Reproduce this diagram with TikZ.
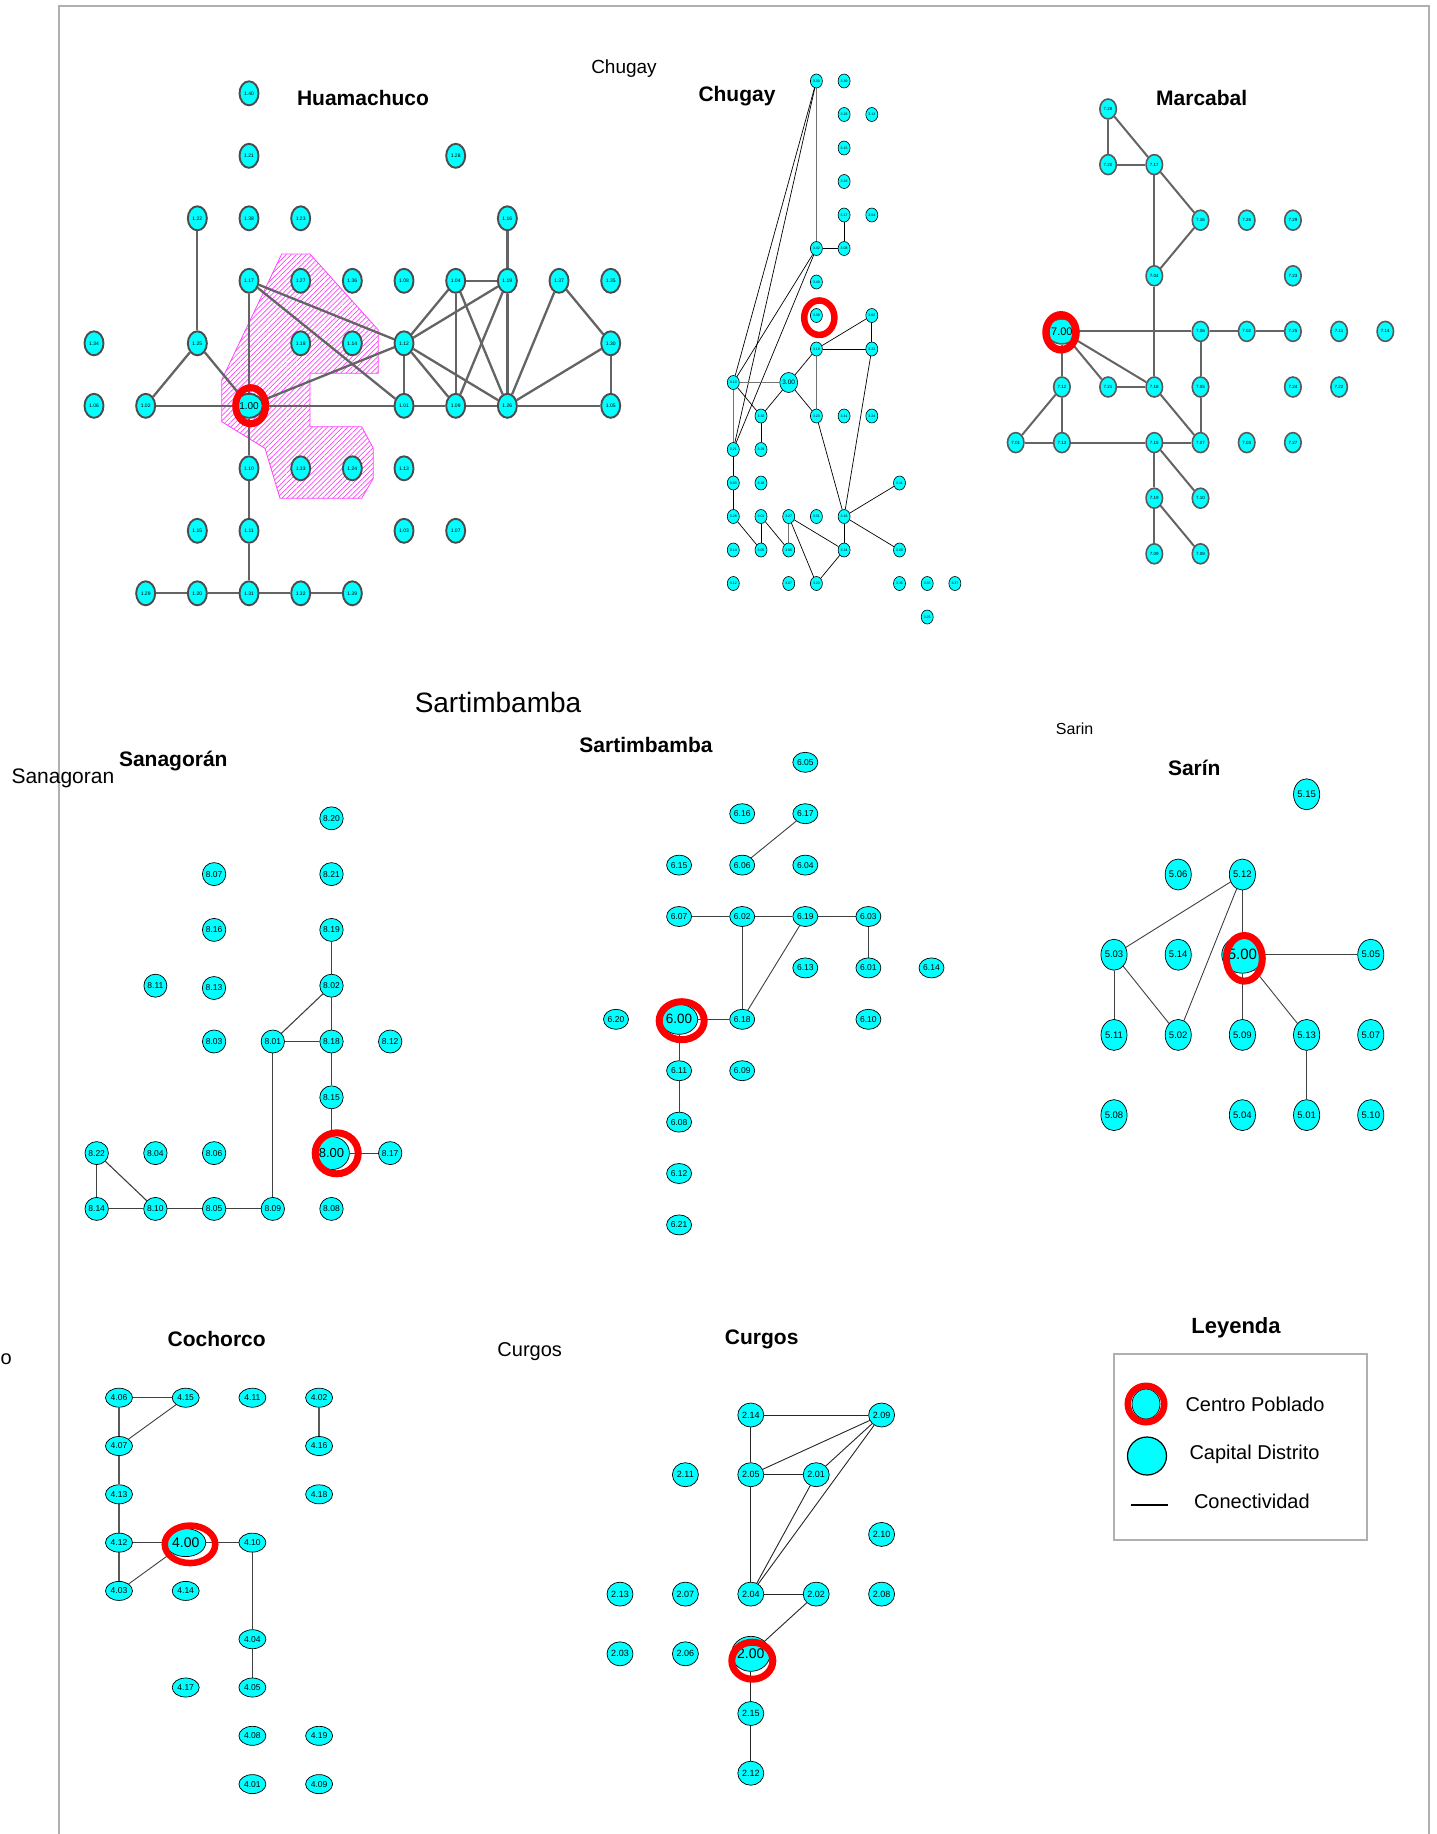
\documentclass[tikz,border=0pt]{standalone}
\usepackage{fontspec}
\setmainfont{Liberation Sans}
\usetikzlibrary{shapes.geometric,patterns.meta}
\pgfdeclarelayer{bg}
\pgfdeclarelayer{bgbottom}
\pgfsetlayers{bgbottom,bg,main}
\definecolor{cy}{HTML}{00FFFF}
\definecolor{hgray}{HTML}{646464}
\definecolor{framegray}{HTML}{B0B0B0}
\definecolor{hatchc}{HTML}{FF44FF}
\tikzset{
  hnode/.style={ellipse, fill=cy, draw=black!70, line width=1.9pt, minimum width=19pt, minimum height=24pt, inner sep=0pt, font=\fontsize{5}{5}\selectfont},
  mnode/.style={ellipse, fill=cy, draw=black!65, line width=1.6pt, minimum width=16.5pt, minimum height=20pt, inner sep=0pt, font=\fontsize{4.5}{5}\selectfont},
  hedge/.style={draw=hgray, line width=2.3pt},
  medge/.style={draw=hgray, line width=2pt},
  cnode/.style={ellipse, fill=cy, draw=black, line width=0.6pt, minimum width=12pt, minimum height=14pt, inner sep=0pt, font=\fontsize{3.5}{3.5}\selectfont},
  cedge/.style={draw=black, line width=0.7pt},
  cedgeg/.style={draw=black!55, line width=1.2pt},
  snode/.style={ellipse, fill=cy, draw=black, line width=0.7pt, minimum width=23pt, minimum height=23pt, inner sep=0pt, font=\fontsize{8.5}{9}\selectfont},
  tnode/.style={ellipse, fill=cy, draw=black, line width=0.7pt, minimum width=25pt, minimum height=20pt, inner sep=0pt, font=\fontsize{8.5}{9}\selectfont},
  nnode/.style={ellipse, fill=cy, draw=black, line width=0.7pt, minimum width=26pt, minimum height=31pt, inner sep=0pt, font=\fontsize{9.5}{10}\selectfont},
  knode/.style={ellipse, fill=cy, draw=black, line width=0.7pt, minimum width=27pt, minimum height=19pt, inner sep=0pt, font=\fontsize{8.5}{9}\selectfont},
  gnode/.style={ellipse, fill=cy, draw=black, line width=0.7pt, minimum width=26pt, minimum height=24pt, inner sep=0pt, font=\fontsize{9}{9}\selectfont},
  ledge/.style={draw=black!75, line width=1.1pt},
  ring/.style={draw=red, line width=6.5pt},
  title/.style={font=\fontsize{21}{24}\selectfont\bfseries},
  plain/.style={font=\fontsize{20}{23}\selectfont},
}
\newcommand\hvN[5][]{\node[hnode,#1] (h#2) at ({94+51.67*#3},{93.3+62.5*#4}) {#5};}
\newcommand\cgN[5][]{\node[cnode,#1] (c#2) at ({733.3+27.7*#3},{81+33.5*#4}) {#5};}
\newcommand\mcN[5][]{\node[mnode,#1] (m#2) at ({1015.7+46.2*#3},{109+55.6*#4}) {#5};}
\newcommand\sgN[5][]{\node[snode,#1] (s#2) at ({96.7+58.7*#3},{818.3+55.8*#4}) {#5};}
\newcommand\stN[5][]{\node[tnode,#1] (t#2) at ({616+63.1*#3},{762.3+51.4*#4}) {#5};}
\newcommand\srN[5][]{\node[nnode,#1] (n#2) at ({1114+64.2*#3},{794.3+80.2*#4}) {#5};}
\newcommand\ccN[5][]{\node[knode,#1] (k#2) at ({119+66.7*#3},{1397.7+48.3*#4}) {#5};}
\newcommand\cuN[5][]{\node[gnode,#1] (g#2) at ({620+65.4*#3},{1415+59.7*#4}) {#5};}
\begin{document}
\begin{tikzpicture}[x=1pt,y=-1pt]
\useasboundingbox (0,0) rectangle (1437,1834);
\begin{pgfonlayer}{bgbottom}
\fill[white] (0,0) rectangle (1437,1834);
\end{pgfonlayer}
% frame
\coordinate (f1) at (59,1840); \coordinate (f2) at (59,6); \coordinate (f3) at (1429,6); \coordinate (f4) at (1429,1840);
\draw[framegray, line width=1.8pt] (f1) -- (f2) -- (f3) -- (f4);

% ---------- Huamachuco ----------
\node[title] (thua) at (363,97.7) {Huamachuco};
\hvN{30}{3}{0}{1.40}
\hvN{31}{3}{1}{1.21} \hvN{71}{7}{1}{1.28}
\hvN{22}{2}{2}{1.22} \hvN{32}{3}{2}{1.38} \hvN{42}{4}{2}{1.23} \hvN{82}{8}{2}{1.16}
\hvN{33}{3}{3}{1.17} \hvN{43}{4}{3}{1.27} \hvN{53}{5}{3}{1.36} \hvN{63}{6}{3}{1.08} \hvN{73}{7}{3}{1.04} \hvN{83}{8}{3}{1.19} \hvN{93}{9}{3}{1.37} \hvN{A3}{10}{3}{1.35}
\hvN{04}{0}{4}{1.34} \hvN{24}{2}{4}{1.25} \hvN{44}{4}{4}{1.18} \hvN{54}{5}{4}{1.14} \hvN{64}{6}{4}{1.12} \hvN{A4}{10}{4}{1.30}
\hvN{05}{0}{5}{1.06} \hvN{15}{1}{5}{1.02} \hvN[font=\fontsize{10}{10}\selectfont]{35}{3}{5}{1.00} \hvN{65}{6}{5}{1.01} \hvN{75}{7}{5}{1.09} \hvN{85}{8}{5}{1.26} \hvN{A5}{10}{5}{1.05}
\hvN{36}{3}{6}{1.10} \hvN{46}{4}{6}{1.33} \hvN{56}{5}{6}{1.24} \hvN{66}{6}{6}{1.13}
\hvN{27}{2}{7}{1.15} \hvN{37}{3}{7}{1.11} \hvN{67}{6}{7}{1.03} \hvN{77}{7}{7}{1.07}
\hvN{18}{1}{8}{1.29} \hvN{28}{2}{8}{1.20} \hvN{38}{3}{8}{1.31} \hvN{48}{4}{8}{1.32} \hvN{58}{5}{8}{1.39}
\begin{pgfonlayer}{bg}
\path[draw=hatchc, line width=0.8pt, pattern={Lines[angle=45,distance=3.6pt,line width=0.7pt]}, pattern color=hatchc]
  (281.7,254) -- (310,254) -- (378.3,330) -- (378.3,373.3) -- (310,373.3) -- (310,426.7) -- (361.7,426.7) -- (373.3,448.3) -- (373.3,478.3) -- (361.7,498.3) -- (280,498.3) -- (265,448.3) -- (221.7,421.7) -- (221.7,380) -- cycle;
\foreach \a/\b in {h22/h24,h24/h15,h24/h35,h15/h35,h35/h65,h65/h75,h75/h85,h85/hA5,h33/h35,h33/h64,h33/h65,h35/h64,h35/h36,h36/h37,h37/h38,h18/h28,h28/h38,h38/h48,h48/h58,h64/h65,h64/h73,h64/h83,h64/h75,h64/h85,h73/h83,h73/h75,h73/h85,h83/h75,h82/h83,h83/h85,h93/h85,h93/hA4,hA4/h85,hA4/hA5}
  \draw[hedge] (\a) -- (\b);
\end{pgfonlayer}
\draw[ring, line width=7pt] (250.7,405.7) ellipse [x radius=15pt, y radius=18pt];

% ---------- Chugay ----------
\node[plain, font=\fontsize{19}{22}\selectfont] (tchug1) at (624,69) {Chugay};
\node[title] (tchug) at (737,96) {Chugay};
\cgN{3r0}{3}{0}{3.30} \cgN{4r0}{4}{0}{3.39}
\cgN{4r1}{4}{1}{3.26} \cgN{5r1}{5}{1}{3.13}
\cgN{4r2}{4}{2}{3.15}
\cgN{4r3}{4}{3}{3.33}
\cgN{4r4}{4}{4}{3.17} \cgN{5r4}{5}{4}{3.04}
\cgN{3r5}{3}{5}{3.42} \cgN{4r5}{4}{5}{3.08}
\cgN{3r6}{3}{6}{3.40}
\cgN{3r7}{3}{7}{3.38} \cgN{5r7}{5}{7}{3.02}
\cgN{3r8}{3}{8}{3.19} \cgN{5r8}{5}{8}{3.22}
\cgN{0r9}{0}{9}{3.10} \cgN[minimum width=17pt,minimum height=20pt,font=\fontsize{6.5}{7}\selectfont]{2r9}{2}{9}{3.00}
\cgN{1r10}{1}{10}{3.32} \cgN{3r10}{3}{10}{3.23} \cgN{4r10}{4}{10}{3.41} \cgN{5r10}{5}{10}{3.24}
\cgN{0r11}{0}{11}{3.21} \cgN{1r11}{1}{11}{3.29}
\cgN{0r12}{0}{12}{3.03} \cgN{1r12}{1}{12}{3.18} \cgN{6r12}{6}{12}{3.11}
\cgN{0r13}{0}{13}{3.28} \cgN{1r13}{1}{13}{3.01} \cgN{2r13}{2}{13}{3.27} \cgN{3r13}{3}{13}{3.31} \cgN{4r13}{4}{13}{3.16}
\cgN{0r14}{0}{14}{3.14} \cgN{1r14}{1}{14}{3.05} \cgN{2r14}{2}{14}{3.06} \cgN{4r14}{4}{14}{3.34} \cgN{6r14}{6}{14}{3.09}
\cgN{0r15}{0}{15}{3.12} \cgN{2r15}{2}{15}{3.07} \cgN{3r15}{3}{15}{3.20} \cgN{6r15}{6}{15}{3.36} \cgN{7r15}{7}{15}{3.35} \cgN{8r15}{8}{15}{3.37}
\cgN{7r16}{7}{16}{3.25}
\begin{pgfonlayer}{bg}
\foreach \a/\b in {c3r0/c0r9,c3r0/c0r11,c3r5/c0r9,c3r5/c0r11,c3r5/c4r5,c4r4/c4r5,c3r8/c5r7,c5r7/c5r8,c3r8/c5r8,c3r8/c2r9,c0r9/c1r10,c2r9/c1r10,c2r9/c3r10,c1r10/c1r11,c0r11/c0r12,c0r12/c0r13,c0r13/c1r14,c1r13/c1r14,c1r13/c2r14,c2r13/c4r14,c2r13/c3r15,c3r15/c4r14,c4r13/c4r14,c3r10/c4r13,c5r8/c4r13,c4r13/c6r12,c4r13/c6r14}
  \draw[cedge] (\a) -- (\b);
\foreach \a/\b in {c3r0/c3r5,c3r8/c3r10,c0r9/c2r9,c0r9/c0r11,c2r13/c2r14}
  \draw[cedgeg] (\a) -- (\b);
\end{pgfonlayer}
\draw[ring] (819.3,317.7) ellipse [x radius=15.1pt, y radius=17.25pt];

% ---------- Marcabal ----------
\node[title] (tmar) at (1201.7,98.3) {Marcabal};
\mcN{2r0}{2}{0}{7.28}
\mcN{2r1}{2}{1}{7.20} \mcN{3r1}{3}{1}{7.17}
\mcN{4r2}{4}{2}{7.16} \mcN{5r2}{5}{2}{7.26} \mcN{6r2}{6}{2}{7.29}
\mcN{3r3}{3}{3}{7.04} \mcN{6r3}{6}{3}{7.23}
\mcN[minimum width=21pt,minimum height=25pt,font=\fontsize{11}{11}\selectfont]{1r4}{1}{4}{7.00} \mcN{4r4}{4}{4}{7.06} \mcN{5r4}{5}{4}{7.02} \mcN{6r4}{6}{4}{7.25} \mcN{7r4}{7}{4}{7.11} \mcN{8r4}{8}{4}{7.14}
\mcN{1r5}{1}{5}{7.12} \mcN{2r5}{2}{5}{7.21} \mcN{3r5}{3}{5}{7.18} \mcN{4r5}{4}{5}{7.05} \mcN{6r5}{6}{5}{7.24} \mcN{7r5}{7}{5}{7.22}
\mcN{0r6}{0}{6}{7.01} \mcN{1r6}{1}{6}{7.13} \mcN{3r6}{3}{6}{7.15} \mcN{4r6}{4}{6}{7.07} \mcN{5r6}{5}{6}{7.03} \mcN{6r6}{6}{6}{7.27}
\mcN{3r7}{3}{7}{7.19} \mcN{4r7}{4}{7}{7.10}
\mcN{3r8}{3}{8}{7.09} \mcN{4r8}{4}{8}{7.08}
\begin{pgfonlayer}{bg}
\foreach \a/\b in {m2r0/m2r1,m2r0/m3r1,m2r1/m3r1,m3r1/m4r2,m3r1/m3r3,m4r2/m3r3,m3r3/m3r5,m1r4/m4r4,m4r4/m5r4,m5r4/m6r4,m4r4/m4r5,m4r5/m4r6,m1r4/m1r5,m1r4/m2r5,m1r4/m3r5,m2r5/m3r5,m3r5/m4r6,m1r5/m0r6,m1r5/m1r6,m0r6/m1r6,m1r6/m3r6,m3r6/m4r6,m3r6/m3r7,m3r6/m4r7,m3r7/m3r8,m3r7/m4r8}
  \draw[medge] (\a) -- (\b);
\end{pgfonlayer}
\draw[ring, line width=7.5pt] (1061,332.3) ellipse [x radius=15pt, y radius=17.5pt];

% ---------- Sanagoran ----------
\node[plain, anchor=west, font=\fontsize{21}{24}\selectfont] (tsan1) at (8,778) {Sanagoran};
\node[title] (tsan) at (173.3,760.7) {Sanagorán};
\sgN{4r0}{4}{0}{8.20}
\sgN{2r1}{2}{1}{8.07} \sgN{4r1}{4}{1}{8.21}
\sgN{2r2}{2}{2}{8.16} \sgN{4r2}{4}{2}{8.19}
\sgN{1r3}{1}{3}{8.11} \node[snode] (s2r3) at (214,988) {8.13}; \sgN{4r3}{4}{3}{8.02}
\sgN{2r4}{2}{4}{8.03} \sgN{3r4}{3}{4}{8.01} \sgN{4r4}{4}{4}{8.18} \sgN{5r4}{5}{4}{8.12}
\sgN{4r5}{4}{5}{8.15}
\sgN{0r6}{0}{6}{8.22} \sgN{1r6}{1}{6}{8.04} \sgN{2r6}{2}{6}{8.06} \sgN[minimum width=32pt,minimum height=33pt,font=\fontsize{13}{13}\selectfont]{4r6}{4}{6}{8.00} \sgN{5r6}{5}{6}{8.17}
\sgN{0r7}{0}{7}{8.14} \sgN{1r7}{1}{7}{8.10} \sgN{2r7}{2}{7}{8.05} \sgN{3r7}{3}{7}{8.09} \sgN{4r7}{4}{7}{8.08}
\begin{pgfonlayer}{bg}
\foreach \a/\b in {s4r2/s4r3,s4r3/s4r4,s4r3/s3r4,s3r4/s4r4,s4r4/s4r5,s4r5/s4r6,s4r6/s5r6,s3r4/s3r7,s0r6/s0r7,s0r6/s1r7,s0r7/s1r7,s1r7/s2r7,s2r7/s3r7}
  \draw[ledge] (\a) -- (\b);
\end{pgfonlayer}
\draw[ring, line width=7pt] (336.7,1153.3) ellipse [x radius=21.5pt, y radius=20.5pt];

% ---------- Sartimbamba ----------
\node[plain, font=\fontsize{28}{31}\selectfont] (tsar1) at (498,702) {Sartimbamba};
\node[title] (tsar) at (646,745) {Sartimbamba};
\stN{3r0}{3}{0}{6.05}
\stN{2r1}{2}{1}{6.16} \stN{3r1}{3}{1}{6.17}
\stN{1r2}{1}{2}{6.15} \stN{2r2}{2}{2}{6.06} \stN{3r2}{3}{2}{6.04}
\stN{1r3}{1}{3}{6.07} \stN{2r3}{2}{3}{6.02} \stN{3r3}{3}{3}{6.19} \stN{4r3}{4}{3}{6.03}
\stN{3r4}{3}{4}{6.13} \stN{4r4}{4}{4}{6.01} \stN{5r4}{5}{4}{6.14}
\stN{0r5}{0}{5}{6.20} \stN[minimum width=37pt,minimum height=30pt,font=\fontsize{13.5}{14}\selectfont]{1r5}{1}{5}{6.00} \stN{2r5}{2}{5}{6.18} \stN{4r5}{4}{5}{6.10}
\stN{1r6}{1}{6}{6.11} \stN{2r6}{2}{6}{6.09}
\stN{1r7}{1}{7}{6.08}
\stN{1r8}{1}{8}{6.12}
\stN{1r9}{1}{9}{6.21}
\begin{pgfonlayer}{bg}
\foreach \a/\b in {t3r1/t2r2,t1r3/t2r3,t2r3/t3r3,t3r3/t4r3,t4r3/t4r4,t2r3/t2r5,t3r3/t2r5,t1r5/t2r5,t1r5/t1r6,t1r6/t1r7}
  \draw[ledge, line width=0.9pt] (\a) -- (\b);
\end{pgfonlayer}
\draw[ring, line width=7pt] (681.7,1020.7) ellipse [x radius=22.5pt, y radius=19pt];

% ---------- Sarin ----------
\node[plain, font=\fontsize{16}{18}\selectfont] (tsrn1) at (1074.6,729) {Sarin};
\node[title] (tsrn) at (1194.3,767.7) {Sarín};
\srN{3r0}{3}{0}{5.15}
\srN{1r1}{1}{1}{5.06} \srN{2r1}{2}{1}{5.12}
\srN{0r2}{0}{2}{5.03} \srN{1r2}{1}{2}{5.14} \srN[minimum width=30pt,minimum height=37pt,font=\fontsize{15}{15}\selectfont]{2r2}{2}{2}{5.00} \srN{4r2}{4}{2}{5.05}
\srN{0r3}{0}{3}{5.11} \srN{1r3}{1}{3}{5.02} \srN{2r3}{2}{3}{5.09} \srN{3r3}{3}{3}{5.13} \srN{4r3}{4}{3}{5.07}
\srN{0r4}{0}{4}{5.08} \srN{2r4}{2}{4}{5.04} \srN{3r4}{3}{4}{5.01} \srN{4r4}{4}{4}{5.10}
\begin{pgfonlayer}{bg}
\foreach \a/\b in {n2r1/n0r2,n2r1/n1r3,n2r1/n2r2,n2r2/n4r2,n2r2/n2r3,n2r2/n3r3,n3r3/n3r4,n0r2/n0r3,n0r2/n1r3}
  \draw[ledge, line width=0.9pt] (\a) -- (\b);
\end{pgfonlayer}
\draw[ring, line width=7pt] (1244.3,958.3) ellipse [x radius=18pt, y radius=22.8pt];

% ---------- Cochorco ----------
\node[plain, anchor=west, inner sep=0.5pt] (tcoc1) at (0,1359) {o};
\node[title] (tcoc) at (216.7,1339) {Cochorco};
\ccN{0r0}{0}{0}{4.06} \ccN{1r0}{1}{0}{4.15} \ccN{2r0}{2}{0}{4.11} \ccN{3r0}{3}{0}{4.02}
\ccN{0r1}{0}{1}{4.07} \ccN{3r1}{3}{1}{4.16}
\ccN{0r2}{0}{2}{4.13} \ccN{3r2}{3}{2}{4.18}
\ccN{0r3}{0}{3}{4.12} \ccN[minimum width=40pt,minimum height=28pt,font=\fontsize{14}{14}\selectfont]{1r3}{1}{3}{4.00} \ccN{2r3}{2}{3}{4.10}
\ccN{0r4}{0}{4}{4.03} \ccN{1r4}{1}{4}{4.14}
\ccN{2r5}{2}{5}{4.04}
\ccN{1r6}{1}{6}{4.17} \ccN{2r6}{2}{6}{4.05}
\ccN{2r7}{2}{7}{4.08} \ccN{3r7}{3}{7}{4.19}
\ccN{2r8}{2}{8}{4.01} \ccN{3r8}{3}{8}{4.09}
\begin{pgfonlayer}{bg}
\foreach \a/\b in {k0r0/k1r0,k1r0/k0r1,k0r4/k1r3,k0r3/k1r3,k1r3/k2r3,k2r3/k2r5,k2r5/k2r6}
  \draw[ledge, line width=0.9pt] (\a) -- (\b);
\foreach \a/\b in {k0r0/k0r1,k0r1/k0r2,k0r2/k0r3,k0r3/k0r4,k3r0/k3r1}
  \draw[ledge, draw=black!65, line width=1.3pt] (\a) -- (\b);
\end{pgfonlayer}
\draw[ring] (190,1544.3) ellipse [x radius=25.25pt, y radius=18.75pt];

% ---------- Curgos ----------
\node[plain] (tcur1) at (529.7,1351.7) {Curgos};
\node[title] (tcur) at (761.7,1339) {Curgos};
\cuN{2r0}{2}{0}{2.14} \cuN{4r0}{4}{0}{2.09}
\cuN{1r1}{1}{1}{2.11} \cuN{2r1}{2}{1}{2.05} \cuN{3r1}{3}{1}{2.01}
\cuN{4r2}{4}{2}{2.10}
\cuN{0r3}{0}{3}{2.13} \cuN{1r3}{1}{3}{2.07} \cuN{2r3}{2}{3}{2.04} \cuN{3r3}{3}{3}{2.02} \cuN{4r3}{4}{3}{2.08}
\cuN{0r4}{0}{4}{2.03} \cuN{1r4}{1}{4}{2.06} \cuN[minimum width=33pt,minimum height=35pt,font=\fontsize{14}{14}\selectfont]{2r4}{2}{4}{2.00}
\cuN{2r5}{2}{5}{2.15}
\cuN{2r6}{2}{6}{2.12}
\begin{pgfonlayer}{bg}
\foreach \a/\b in {g2r0/g4r0,g2r0/g2r1,g2r1/g4r0,g2r1/g3r1,g3r1/g4r0,g2r3/g4r0,g2r3/g3r1,g2r1/g2r3,g2r3/g3r3,g3r3/g2r4,g2r4/g2r5,g2r5/g2r6}
  \draw[ledge, draw=black!85, line width=0.9pt] (\a) -- (\b);
\end{pgfonlayer}
\draw[ring, line width=7pt] (752.3,1660.7) ellipse [x radius=20.5pt, y radius=18.5pt];

% ---------- Leyenda ----------
\node[title, font=\fontsize{22}{25}\selectfont\bfseries] (tley) at (1236,1328) {Leyenda};
\node[draw=framegray, line width=1.8pt, minimum width=252.5pt, minimum height=186pt, inner sep=0pt] (lbox) at (1240.5,1447) {};
\node[ellipse, fill=cy, draw=black, line width=0.7pt, minimum width=28pt, minimum height=30pt, inner sep=0pt] (lcp) at (1146,1404) {};
\draw[ring] (lcp.center) ellipse [x radius=18.25pt, y radius=18.25pt];
\node[ellipse, fill=cy, draw=black, line width=1.2pt, minimum width=39pt, minimum height=38pt, inner sep=0pt] (lcd) at (1147,1456) {};
\coordinate (lc1) at (1130.5,1505); \coordinate (lc2) at (1168,1505);
\draw[black, line width=1.5pt] (lc1) -- (lc2);
\node[plain, anchor=west] (ltxt1) at (1182,1404) {Centro Poblado};
\node[plain, anchor=west] (ltxt2) at (1186,1454) {Capital Distrito};
\node[plain, anchor=west] (ltxt3) at (1190.5,1501) {Conectividad};
\end{tikzpicture}
\end{document}
